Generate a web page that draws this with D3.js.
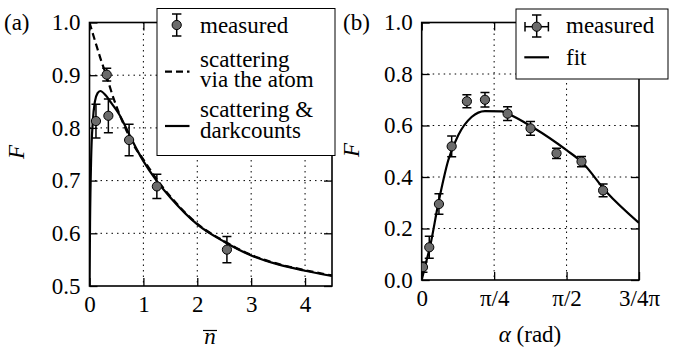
<!DOCTYPE html>
<html>
<head>
<meta charset="utf-8">
<script src="https://cdn.jsdelivr.net/npm/d3@7"></script>
</head>
<body style="margin:0;background:#fff">
<svg width="680" height="349"></svg>
<script>
// panel (a): fidelity vs mean photon number
var nMeas = [0.12, 0.32, 0.35, 0.735, 1.25, 2.55];
var fMeasA = [0.813, 0.901, 0.823, 0.777, 0.689, 0.569];
var errA = [0.032, 0.012, 0.032, 0.03, 0.023, 0.025];

var nSolid = [0, 0.01, 0.03, 0.06, 0.1, 0.15, 0.2, 0.3, 0.4, 0.55, 0.75, 0.9, 1.0, 1.25, 1.5, 2, 2.5, 3, 3.5, 4, 4.5];
var fSolid = [0.5, 0.62, 0.74, 0.81, 0.85, 0.866, 0.87, 0.862, 0.848, 0.826, 0.785, 0.755, 0.737, 0.699, 0.668, 0.617, 0.584, 0.558, 0.541, 0.529, 0.519];

var nDash = [0, 0.1, 0.2, 0.3, 0.45, 0.6, 0.85, 1.0, 1.25, 1.5, 2, 2.5, 3, 3.5, 4, 4.5];
var fDash = [1.0, 0.966, 0.933, 0.903, 0.855, 0.815, 0.762, 0.74, 0.702, 0.670, 0.618, 0.585, 0.559, 0.542, 0.530, 0.520];

// panel (b): fidelity vs angle
var alphaMeas = [0.014, 0.082, 0.187, 0.325, 0.49, 0.686, 0.931, 1.18, 1.462, 1.733, 1.967];
var fMeasB = [0.05, 0.127, 0.295, 0.519, 0.694, 0.70, 0.646, 0.589, 0.492, 0.46, 0.348];
var errB = [0.02, 0.043, 0.04, 0.04, 0.025, 0.028, 0.027, 0.027, 0.02, 0.02, 0.025];
var xErrB = 0.02;

var alphaFit = [0, 0.045, 0.09, 0.18, 0.288, 0.396, 0.541, 0.686, 0.866, 0.92, 1.208, 1.571, 1.733, 2.003, 2.356];
var fFit = [0, 0.065, 0.129, 0.297, 0.465, 0.562, 0.633, 0.656, 0.655, 0.648, 0.592, 0.504, 0.459, 0.342, 0.222];

var yTicksA = [0.5, 0.6, 0.7, 0.8, 0.9, 1.0];
var xTicksA = [0, 1, 2, 3, 4];
var yTicksB = [0, 0.2, 0.4, 0.6, 0.8, 1.0];
var xTicksB = [0, Math.PI / 4, Math.PI / 2, 3 * Math.PI / 4];
var xTickLabelsB = ["0", "π/4", "π/2", "3/4π"];

var svg = d3.select("svg");
var markerFill = "#6b6b6b";

function drawFrame(g, x, y, xTicks, yTicks, xFmt, yFmt, clipId) {
	var x0 = x.range()[0], x1 = x.range()[1];
	var y0 = y.range()[1], y1 = y.range()[0];

	svg.append("clipPath").attr("id", clipId)
		.append("rect")
		.attr("x", x0).attr("y", y0)
		.attr("width", x1 - x0).attr("height", y1 - y0);

	// dotted grid
	g.append("g").selectAll("line")
		.data(xTicks.filter(function (t) { return x(t) > x0 + 1 && x(t) < x1 - 1; }))
		.enter().append("line")
		.attr("x1", d => x(d)).attr("x2", d => x(d))
		.attr("y1", y0).attr("y2", y1)
		.attr("stroke", "#000").attr("stroke-width", 1)
		.attr("stroke-dasharray", "1.5,4");
	g.append("g").selectAll("line")
		.data(yTicks.filter(function (t) { return y(t) > y0 + 1 && y(t) < y1 - 1; }))
		.enter().append("line")
		.attr("y1", d => y(d)).attr("y2", d => y(d))
		.attr("x1", x0).attr("x2", x1)
		.attr("stroke", "#000").attr("stroke-width", 1)
		.attr("stroke-dasharray", "1.5,4");

	var xb = g.append("g").attr("transform", "translate(0," + y1 + ")")
		.call(d3.axisBottom(x).tickValues(xTicks).tickFormat(xFmt).tickSizeInner(-8).tickSizeOuter(0).tickPadding(10));
	var xt = g.append("g").attr("transform", "translate(0," + y0 + ")")
		.call(d3.axisTop(x).tickValues(xTicks).tickFormat("").tickSizeInner(-8).tickSizeOuter(0));
	var yl = g.append("g").attr("transform", "translate(" + x0 + ",0)")
		.call(d3.axisLeft(y).tickValues(yTicks).tickFormat(yFmt).tickSizeInner(-8).tickSizeOuter(0).tickPadding(9));
	var yr = g.append("g").attr("transform", "translate(" + x1 + ",0)")
		.call(d3.axisRight(y).tickValues(yTicks).tickFormat("").tickSizeInner(-8).tickSizeOuter(0));

	[xb, xt, yl, yr].forEach(function (a) {
		a.select(".domain").remove();
		a.selectAll(".tick line").attr("stroke", "#000").attr("stroke-width", 1.3);
	});

	g.append("rect")
		.attr("x", x0).attr("y", y0)
		.attr("width", x1 - x0).attr("height", y1 - y0)
		.attr("fill", "none").attr("stroke", "#000").attr("stroke-width", 1.6);
}

function drawPoints(g, x, y, xs, ys, es, xe, clipId) {
	var pg = g.append("g").attr("clip-path", "url(#" + clipId + ")");
	var pts = xs.map(function (v, i) { return { x: v, y: ys[i], e: es[i] }; });
	var cap = 4.5;
	var eb = pg.selectAll("g.eb").data(pts).enter().append("g").attr("class", "eb");
	eb.append("line")
		.attr("x1", d => x(d.x)).attr("x2", d => x(d.x))
		.attr("y1", d => y(d.y + d.e)).attr("y2", d => y(d.y - d.e));
	eb.append("line")
		.attr("x1", d => x(d.x) - cap).attr("x2", d => x(d.x) + cap)
		.attr("y1", d => y(d.y + d.e)).attr("y2", d => y(d.y + d.e));
	eb.append("line")
		.attr("x1", d => x(d.x) - cap).attr("x2", d => x(d.x) + cap)
		.attr("y1", d => y(d.y - d.e)).attr("y2", d => y(d.y - d.e));
	if (xe) {
		eb.append("line")
			.attr("x1", d => x(d.x - xe)).attr("x2", d => x(d.x + xe))
			.attr("y1", d => y(d.y)).attr("y2", d => y(d.y));
	}
	eb.selectAll("line").attr("stroke", "#000").attr("stroke-width", 1.5);
	pg.selectAll("circle").data(pts).enter().append("circle")
		.attr("cx", d => x(d.x)).attr("cy", d => y(d.y)).attr("r", 4.6)
		.attr("fill", markerFill).attr("stroke", "#000").attr("stroke-width", 1);
}

function drawCurve(g, x, y, xs, ys, dash, clipId) {
	var line = d3.line().x(d => x(d[0])).y(d => y(d[1])).curve(d3.curveMonotoneX);
	g.append("path")
		.attr("clip-path", "url(#" + clipId + ")")
		.attr("d", line(xs.map(function (v, i) { return [v, ys[i]]; })))
		.attr("fill", "none").attr("stroke", "#000").attr("stroke-width", 2.2)
		.attr("stroke-dasharray", dash ? "7,4" : null);
}

// ---------- panel (a)
var xA = d3.scaleLinear().domain([0, 4.5]).range([89.5, 332]);
var yA = d3.scaleLinear().domain([0.5, 1.0]).range([286, 22.5]);
var gA = svg.append("g");
drawFrame(gA, xA, yA, xTicksA, yTicksA, d3.format("d"), d3.format(".1f"), "clipA");
drawCurve(gA, xA, yA, nDash, fDash, true, "clipA");
drawCurve(gA, xA, yA, nSolid, fSolid, false, "clipA");
drawPoints(gA, xA, yA, nMeas, fMeasA, errA, 0, "clipA");

svg.append("text").attr("x", 4).attr("y", 30).text("(a)");
svg.append("text").attr("transform", "translate(24,152) rotate(-90)")
	.attr("text-anchor", "middle").attr("font-style", "italic").text("F");
svg.append("text").attr("x", 210).attr("y", 344).attr("text-anchor", "middle")
	.attr("font-style", "italic").text("n");
svg.append("line").attr("x1", 203).attr("x2", 217).attr("y1", 330.5).attr("y2", 330.5)
	.attr("stroke", "#000").attr("stroke-width", 1.2);

// legend (a)
var legA = svg.append("g");
legA.append("rect").attr("x", 157).attr("y", 8.5).attr("width", 178).attr("height", 147)
	.attr("fill", "#fff").attr("stroke", "#000").attr("stroke-width", 1);
legA.append("line").attr("x1", 176.7).attr("x2", 176.7).attr("y1", 14).attr("y2", 36);
legA.append("line").attr("x1", 172).attr("x2", 181.4).attr("y1", 14).attr("y2", 14);
legA.append("line").attr("x1", 172).attr("x2", 181.4).attr("y1", 36).attr("y2", 36);
legA.selectAll("line").attr("stroke", "#000").attr("stroke-width", 1.5);
legA.append("circle").attr("cx", 176.7).attr("cy", 25).attr("r", 4.6)
	.attr("fill", markerFill).attr("stroke", "#000");
legA.append("line").attr("x1", 165).attr("x2", 189.5).attr("y1", 71.7).attr("y2", 71.7)
	.attr("stroke", "#000").attr("stroke-width", 2.2).attr("stroke-dasharray", "7,4");
legA.append("line").attr("x1", 165).attr("x2", 189.5).attr("y1", 126).attr("y2", 126)
	.attr("stroke", "#000").attr("stroke-width", 2.2);
var legTextA = [["measured", 33.3], ["scattering", 66.7], ["via the atom", 87.3], ["scattering &", 116.7], ["darkcounts", 138.3]];
legA.selectAll("text").data(legTextA).enter().append("text")
	.attr("x", 200).attr("y", d => d[1]).text(d => d[0]);

// ---------- panel (b)
var xB = d3.scaleLinear().domain([0, 3 * Math.PI / 4]).range([421.7, 639]);
var yB = d3.scaleLinear().domain([0, 1.0]).range([280, 22.5]);
var gB = svg.append("g");
drawFrame(gB, xB, yB, xTicksB, yTicksB, function (d, i) { return xTickLabelsB[i]; }, d3.format(".1f"), "clipB");
drawCurve(gB, xB, yB, alphaFit, fFit, false, "clipB");
drawPoints(gB, xB, yB, alphaMeas, fMeasB, errB, xErrB, "clipB");

svg.append("text").attr("x", 343).attr("y", 30).text("(b)");
svg.append("text").attr("transform", "translate(359,150) rotate(-90)")
	.attr("text-anchor", "middle").attr("font-style", "italic").text("F");
var aLab = svg.append("text").attr("x", 530).attr("y", 342).attr("text-anchor", "middle");
aLab.append("tspan").attr("font-style", "italic").text("α");
aLab.append("tspan").text(" (rad)");

// legend (b)
var legB = svg.append("g");
legB.append("rect").attr("x", 516).attr("y", 9).attr("width", 152).attr("height", 70)
	.attr("fill", "#fff").attr("stroke", "#000").attr("stroke-width", 1);
legB.append("line").attr("x1", 536.7).attr("x2", 536.7).attr("y1", 15).attr("y2", 37);
legB.append("line").attr("x1", 532).attr("x2", 541.4).attr("y1", 15).attr("y2", 15);
legB.append("line").attr("x1", 532).attr("x2", 541.4).attr("y1", 37).attr("y2", 37);
legB.append("line").attr("x1", 525).attr("x2", 548.4).attr("y1", 26.7).attr("y2", 26.7);
legB.append("line").attr("x1", 525).attr("x2", 525).attr("y1", 22).attr("y2", 31.4);
legB.append("line").attr("x1", 548.4).attr("x2", 548.4).attr("y1", 22).attr("y2", 31.4);
legB.selectAll("line").attr("stroke", "#000").attr("stroke-width", 1.5);
legB.append("circle").attr("cx", 536.7).attr("cy", 26.7).attr("r", 4.6)
	.attr("fill", markerFill).attr("stroke", "#000");
legB.append("line").attr("x1", 524.3).attr("x2", 549).attr("y1", 57.3).attr("y2", 57.3)
	.attr("stroke", "#000").attr("stroke-width", 2.2);
legB.append("text").attr("x", 566).attr("y", 33).text("measured");
legB.append("text").attr("x", 566).attr("y", 65).text("fit");

// serif font for every label, set as important so it wins over other rules
svg.selectAll("text").each(function () {
	this.style.setProperty("font-family", "'Liberation Serif', 'DejaVu Serif', serif", "important");
	this.style.setProperty("font-size", "23px", "important");
	this.style.setProperty("fill", "#000");
});
</script>
</body>
</html>
